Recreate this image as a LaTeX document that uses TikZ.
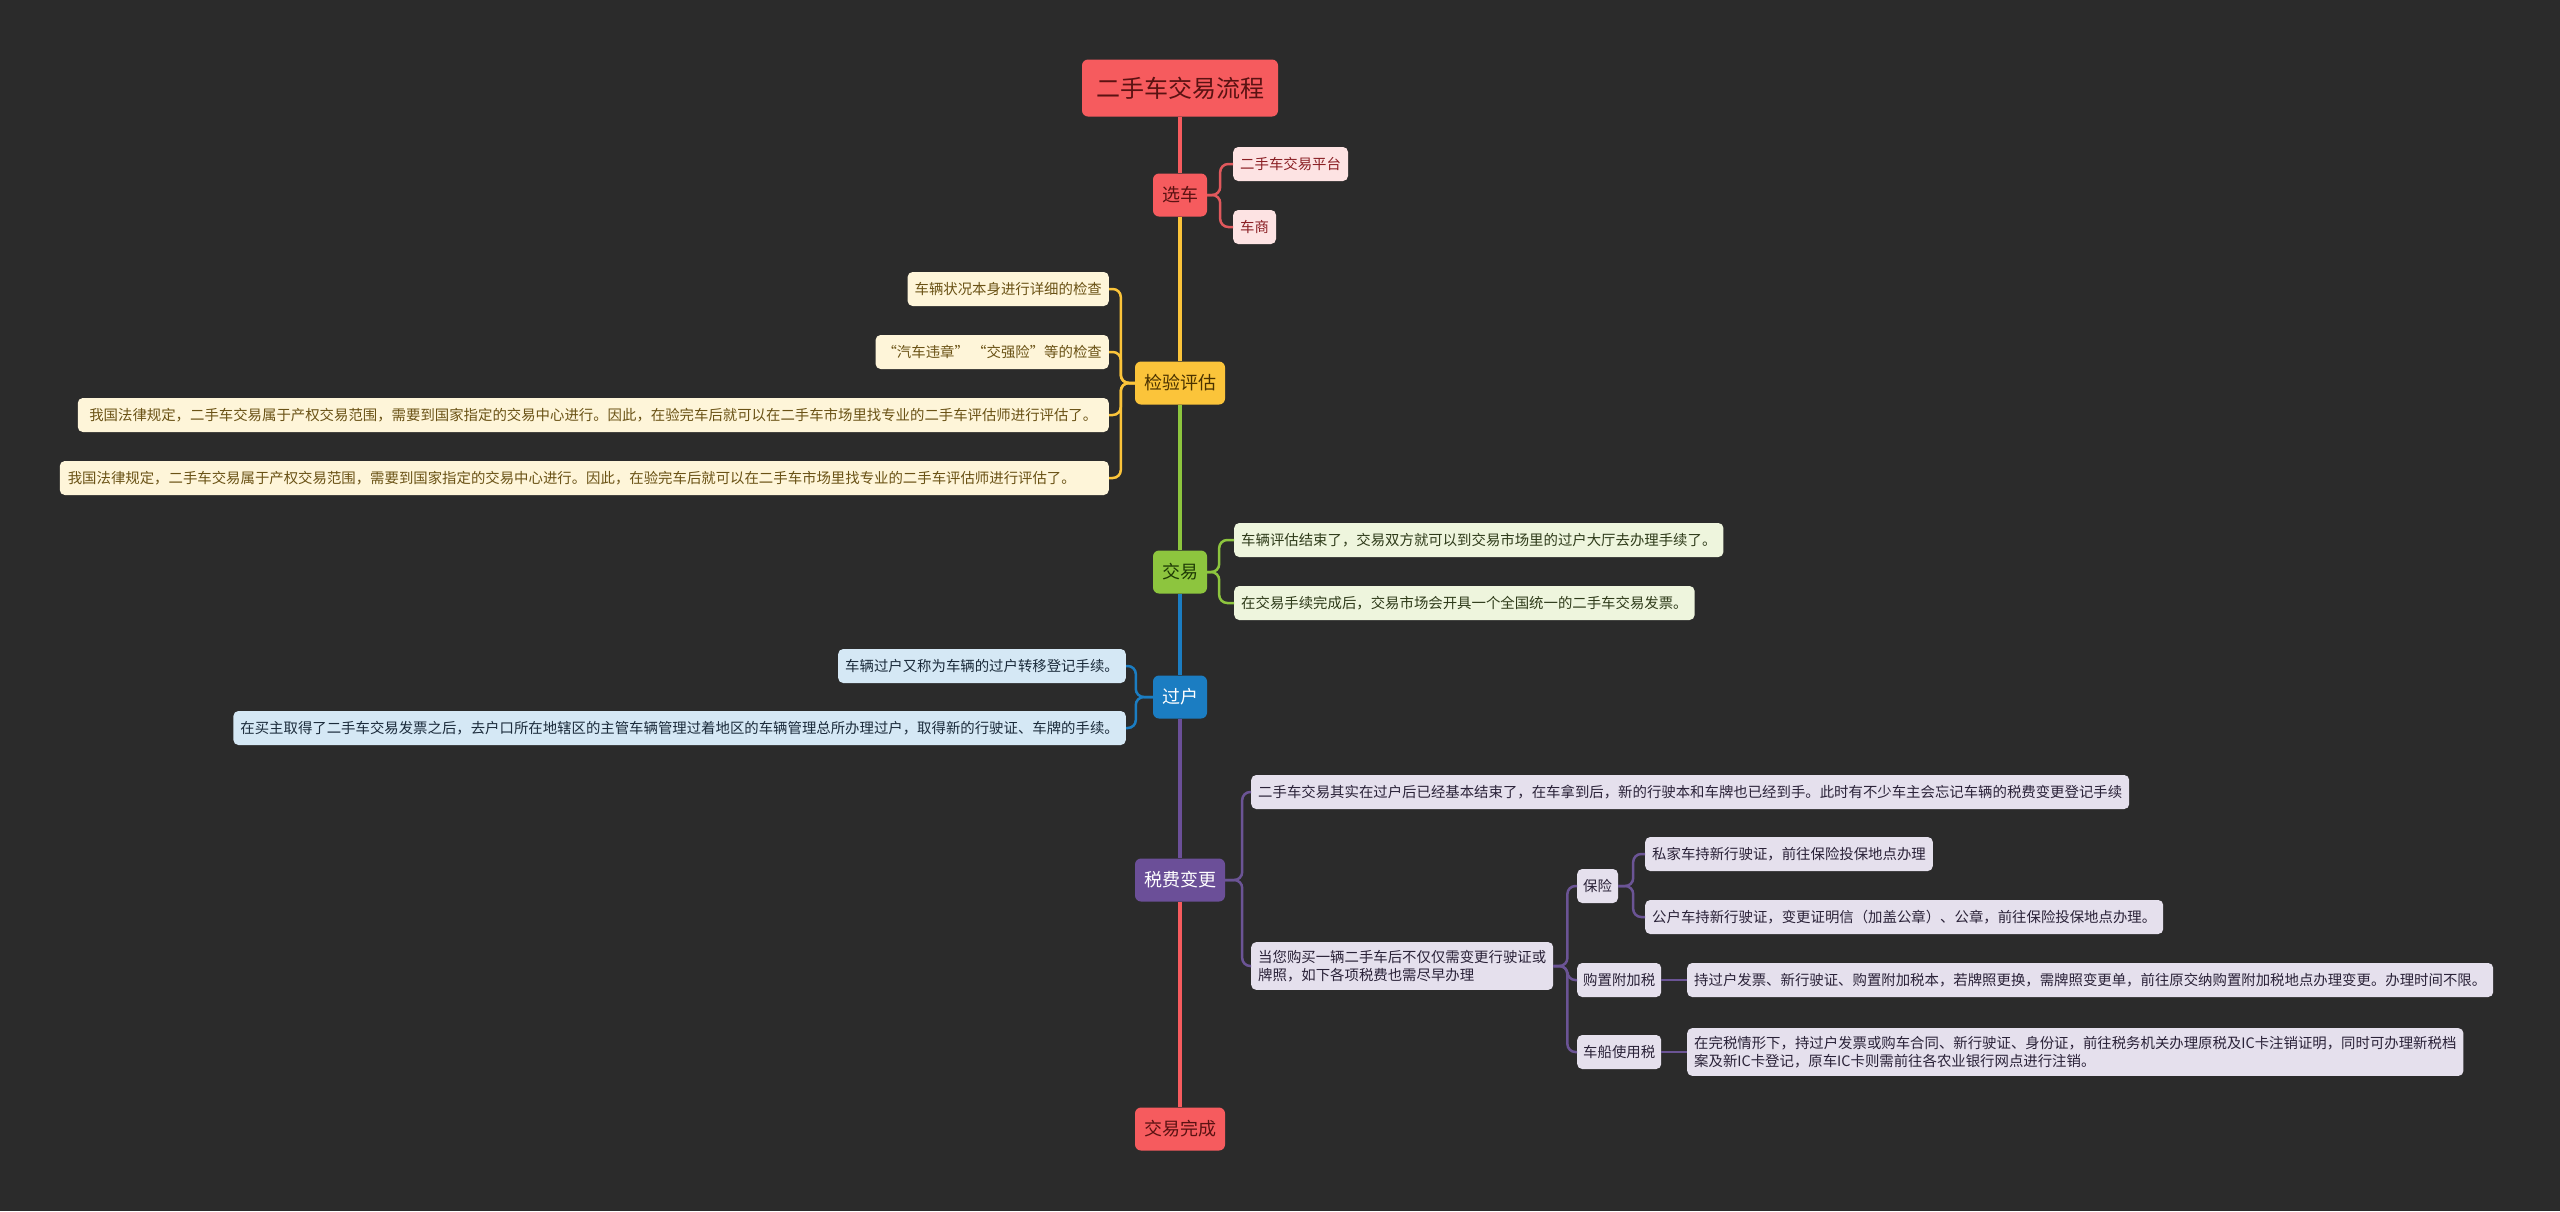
\documentclass[tikz,border=0pt]{standalone}
\usepackage{fontspec}
\setmainfont{Noto Sans CJK SC}
\definecolor{bgc}{HTML}{2B2B2B}
\definecolor{redc}{HTML}{F65B5E}
\definecolor{redtxt}{HTML}{5A1212}
\definecolor{redleaf}{HTML}{FDE3E3}
\definecolor{redleaftxt}{HTML}{8A1F24}
\definecolor{redlink}{HTML}{E0585C}
\definecolor{yelc}{HTML}{FBC43A}
\definecolor{yeltxt}{HTML}{4A3200}
\definecolor{yelleaf}{HTML}{FEF5D9}
\definecolor{yelleaftxt}{HTML}{6A5215}
\definecolor{grnc}{HTML}{8DC53E}
\definecolor{grntxt}{HTML}{1E3A05}
\definecolor{grnleaf}{HTML}{EEF5DD}
\definecolor{grnleaftxt}{HTML}{2F3B1A}
\definecolor{bluc}{HTML}{1B7DC2}
\definecolor{bluleaf}{HTML}{D5E8F5}
\definecolor{bluleaftxt}{HTML}{1B2B3B}
\definecolor{purc}{HTML}{6B4F98}
\definecolor{purleaf}{HTML}{E5E0ED}
\definecolor{purleaftxt}{HTML}{2A2238}
\definecolor{purlink}{HTML}{6B5495}

\begin{document}
\begin{tikzpicture}[
  x=1pt, y=-1pt,
  root/.style={fill=redc, text=redtxt, rounded corners=6, inner xsep=14, minimum width=196, minimum height=57, font=\fontsize{24}{28}\selectfont},
  topic/.style={rounded corners=6, inner xsep=9, minimum height=43, font=\fontsize{18}{22}\selectfont},
  leaf/.style={rounded corners=5, inner xsep=7, inner ysep=8, minimum height=34, align=left, font=\fontsize{14.4}{18}\selectfont},
  spine/.style={line width=4},
  lk/.style={line width=2.5, rounded corners=8}
]
  \fill[bgc] (0,0) rectangle (2560,1211);
  \useasboundingbox (0,0) rectangle (2560,1211);

  % main line
  \node[root] (root) at (1180,88) {二手车交易流程};
  \node[topic, fill=redc, text=redtxt] (xc) at (1180,195) {选车};
  \node[topic, fill=yelc, text=yeltxt] (jy) at (1180,383) {检验评估};
  \node[topic, fill=grnc, text=grntxt] (jx) at (1180,572) {交易};
  \node[topic, fill=bluc, text=white] (gh) at (1180,697) {过户};
  \node[topic, fill=purc, text=white] (sf) at (1180,880) {税费变更};
  \node[topic, fill=redc, text=redtxt] (wc) at (1180,1129) {交易完成};

  \draw[spine, redc] (root) -- (xc);
  \draw[spine, yelc] (xc) -- (jy);
  \draw[spine, grnc] (jy) -- (jx);
  \draw[spine, bluc] (jx) -- (gh);
  \draw[spine, purc] (gh) -- (sf);
  \draw[spine, redc] (sf) -- (wc);

  % 选车
  \node[leaf, fill=redleaf, text=redleaftxt, anchor=west] (xc1) at (1233,164) {二手车交易平台};
  \node[leaf, fill=redleaf, text=redleaftxt, anchor=west] (xc2) at (1233,227) {车商};
  \foreach \c in {xc1,xc2}
    \draw[lk, redlink] (xc.east) -- ++(13,0) |- (\c.west);

  % 检验评估
  \node[leaf, fill=yelleaf, text=yelleaftxt, anchor=east] (jy1) at (1109,289) {车辆状况本身进行详细的检查};
  \node[leaf, fill=yelleaf, text=yelleaftxt, anchor=east] (jy2) at (1109,352) {“汽车违章” “交强险”等的检查};
  \node[leaf, fill=yelleaf, text=yelleaftxt, anchor=east, minimum width=1031] (jy3) at (1109,415) {我国法律规定，二手车交易属于产权交易范围，需要到国家指定的交易中心进行。因此，在验完车后就可以在二手车市场里找专业的二手车评估师进行评估了。};
  \node[leaf, fill=yelleaf, text=yelleaftxt, anchor=east, text width=1033, inner xsep=8] (jy4) at (1109,478) {我国法律规定，二手车交易属于产权交易范围，需要到国家指定的交易中心进行。因此，在验完车后就可以在二手车市场里找专业的二手车评估师进行评估了。};
  \foreach \c in {jy1,jy2,jy3,jy4}
    \draw[lk, yelc] (jy.west) -- ++(-14,0) |- (\c.east);

  % 交易
  \node[leaf, fill=grnleaf, text=grnleaftxt, anchor=west] (jx1) at (1234,540) {车辆评估结束了，交易双方就可以到交易市场里的过户大厅去办理手续了。};
  \node[leaf, fill=grnleaf, text=grnleaftxt, anchor=west] (jx2) at (1234,603) {在交易手续完成后，交易市场会开具一个全国统一的二手车交易发票。};
  \foreach \c in {jx1,jx2}
    \draw[lk, grnc] (jx.east) -- ++(12,0) |- (\c.west);

  % 过户
  \node[leaf, fill=bluleaf, text=bluleaftxt, anchor=east] (gh1) at (1126,666) {车辆过户又称为车辆的过户转移登记手续。};
  \node[leaf, fill=bluleaf, text=bluleaftxt, anchor=east] (gh2) at (1126,728) {在买主取得了二手车交易发票之后，去户口所在地辖区的主管车辆管理过着地区的车辆管理总所办理过户，取得新的行驶证、车牌的手续。};
  \foreach \c in {gh1,gh2}
    \draw[lk, bluc] (gh.west) -- ++(-17,0) |- (\c.east);

  % 税费变更
  \node[leaf, fill=purleaf, text=purleaftxt, anchor=west] (sf1) at (1251,792) {二手车交易其实在过户后已经基本结束了，在车拿到后，新的行驶本和车牌也已经到手。此时有不少车主会忘记车辆的税费变更登记手续};
  \node[leaf, fill=purleaf, text=purleaftxt, anchor=west] (sf2) at (1251,966) {当您购买一辆二手车后不仅仅需变更行驶证或\\牌照，如下各项税费也需尽早办理};
  \foreach \c in {sf1,sf2}
    \draw[lk, purlink] (sf.east) -- ++(17,0) |- (\c.west);

  \node[leaf, fill=purleaf, text=purleaftxt, inner xsep=6, anchor=west] (bx) at (1577,886) {保险};
  \node[leaf, fill=purleaf, text=purleaftxt, inner xsep=6, anchor=west] (gz) at (1577,980) {购置附加税};
  \node[leaf, fill=purleaf, text=purleaftxt, inner xsep=6, anchor=west] (cc) at (1577,1052) {车船使用税};
  \foreach \c in {bx,gz,cc}
    \draw[lk, purlink] (sf2.east) -- ++(14,0) |- (\c.west);

  \node[leaf, fill=purleaf, text=purleaftxt, anchor=west] (bx1) at (1645,854) {私家车持新行驶证，前往保险投保地点办理};
  \node[leaf, fill=purleaf, text=purleaftxt, anchor=west] (bx2) at (1645,917) {公户车持新行驶证，变更证明信（加盖公章）、公章，前往保险投保地点办理。};
  \foreach \c in {bx1,bx2}
    \draw[lk, purlink] (bx.east) -- ++(15,0) |- (\c.west);

  \node[leaf, fill=purleaf, text=purleaftxt, anchor=west] (gz1) at (1687,980) {持过户发票、新行驶证、购置附加税本，若牌照更换，需牌照变更单，前往原交纳购置附加税地点办理变更。办理时间不限。};
  \node[leaf, fill=purleaf, text=purleaftxt, anchor=west] (cc1) at (1687,1052) {在完税情形下，持过户发票或购车合同、新行驶证、身份证，前往税务机关办理原税及IC卡注销证明，同时可办理新税档\\案及新IC卡登记，原车IC卡则需前往各农业银行网点进行注销。};
  \draw[lk, purlink] (gz) -- (gz1);
  \draw[lk, purlink] (cc) -- (cc1);
\end{tikzpicture}
\end{document}
